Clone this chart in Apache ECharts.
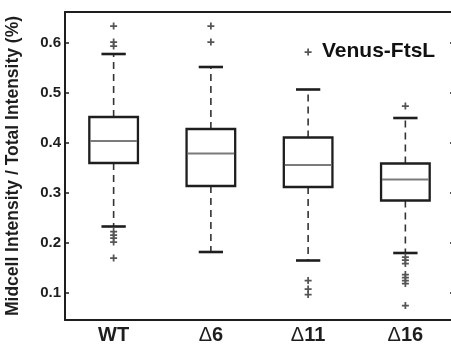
<!DOCTYPE html>
<html>
<head>
<meta charset="utf-8">
<script src="https://cdn.jsdelivr.net/npm/echarts@6/dist/echarts.min.js"></script>
<style>
  html, body { margin: 0; padding: 0; background: #fff; overflow: hidden; }
  #chart { width: 460px; height: 355px; }
</style>
</head>
<body>
<div id="chart"></div>
<script>
// Strain names along the x axis
const categories = ['WT', 'Δ6', 'Δ11', 'Δ16'];

// Box statistics per strain (fraction of total intensity)
const lowerWhisker = [0.232, 0.181, 0.164, 0.179];
const lowerQuartile = [0.359, 0.313, 0.311, 0.284];
const medianValue = [0.403, 0.378, 0.355, 0.326];
const upperQuartile = [0.451, 0.427, 0.410, 0.358];
const upperWhisker = [0.577, 0.551, 0.506, 0.449];

// Outlying cells per strain
const outliersWT = [0.633, 0.601, 0.593, 0.222, 0.215, 0.209, 0.201, 0.169];
const outliersD6 = [0.633, 0.601];
const outliersD11 = [0.581, 0.124, 0.107, 0.096];
const outliersD16 = [0.473, 0.171, 0.165, 0.158, 0.136, 0.130, 0.124, 0.118, 0.074];

const yMin = 0.045;
const yMax = 0.661;

const boxData = categories.map((c, i) => [
  i, lowerWhisker[i], lowerQuartile[i], medianValue[i], upperQuartile[i], upperWhisker[i]
]);

const outlierData = [];
[outliersWT, outliersD6, outliersD11, outliersD16].forEach((arr, i) => {
  arr.forEach(v => outlierData.push([i, v]));
});

const FONT = '"Liberation Sans", Arial, sans-serif';
const INK = '#1e1e1e';

function renderBox(params, api) {
  const i = api.value(0);
  const lo = api.coord([i, api.value(1)]);
  const q1 = api.coord([i, api.value(2)]);
  const md = api.coord([i, api.value(3)]);
  const q3 = api.coord([i, api.value(4)]);
  const hi = api.coord([i, api.value(5)]);
  const band = api.size([1, 0])[0];
  const bw = band * 0.5;
  const cw = bw * 0.5;
  const x = q1[0];
  const whiskerStyle = { stroke: '#333', lineWidth: 1.6, lineDash: [7, 5] };
  const capStyle = { stroke: INK, lineWidth: 2.6 };
  return {
    type: 'group',
    children: [
      { type: 'line', shape: { x1: x, y1: q3[1], x2: x, y2: hi[1] }, style: whiskerStyle },
      { type: 'line', shape: { x1: x, y1: q1[1], x2: x, y2: lo[1] }, style: whiskerStyle },
      { type: 'line', shape: { x1: x - cw / 2, y1: hi[1], x2: x + cw / 2, y2: hi[1] }, style: capStyle },
      { type: 'line', shape: { x1: x - cw / 2, y1: lo[1], x2: x + cw / 2, y2: lo[1] }, style: capStyle },
      { type: 'rect', shape: { x: x - bw / 2, y: q3[1], width: bw, height: q1[1] - q3[1] },
        style: { fill: 'none', stroke: INK, lineWidth: 2.3 } },
      { type: 'line', shape: { x1: x - bw / 2 + 1, y1: md[1], x2: x + bw / 2 - 1, y2: md[1] },
        style: { stroke: '#7a7a7a', lineWidth: 2 } }
    ]
  };
}

const chart = echarts.init(document.getElementById('chart'), null, { renderer: 'canvas' });

const xLabelRich = {
  d: { fontFamily: FONT, fontSize: 20, fontWeight: 'normal', color: INK },
  b: { fontFamily: FONT, fontSize: 20, fontWeight: 'bold', color: INK }
};

chart.setOption({
  animation: false,
  backgroundColor: '#fff',
  grid: { left: 65, right: 6, top: 12, bottom: 35, containLabel: false, outerBoundsMode: 'none' },
  xAxis: [
    {
      type: 'category', data: categories, position: 'bottom',
      axisLine: { lineStyle: { color: INK, width: 2 } },
      axisTick: { inside: true, alignWithLabel: true, length: 5, lineStyle: { color: INK, width: 1.5 } },
      axisLabel: {
        margin: 5,
        formatter: v => v.startsWith('Δ') ? '{d|Δ}{b|' + v.slice(1) + '}' : '{b|' + v + '}',
        rich: xLabelRich
      },
      splitLine: { show: false }
    },
    {
      type: 'category', data: categories, position: 'top',
      axisLine: { lineStyle: { color: INK, width: 2 } },
      axisTick: { inside: true, alignWithLabel: true, length: 5, lineStyle: { color: INK, width: 1.5 } },
      axisLabel: { show: false }
    }
  ],
  yAxis: [
    {
      type: 'value', min: yMin, max: yMax, position: 'left',
      name: 'Midcell Intensity / Total Intensity (%)',
      nameLocation: 'middle', nameGap: 43,
      nameTextStyle: { fontFamily: FONT, fontSize: 17.5, fontWeight: 'bold', color: INK },
      axisLine: { show: true, lineStyle: { color: INK, width: 2 } },
      axisTick: { show: true, inside: true, length: 4, lineStyle: { color: INK, width: 1.5 } },
      axisLabel: {
        showMinLabel: false, showMaxLabel: false, margin: 4,
        fontFamily: FONT, fontSize: 15, fontWeight: 'bold', color: INK,
        formatter: v => v.toFixed(1)
      },
      splitLine: { show: false }
    },
    {
      type: 'value', min: yMin, max: yMax, position: 'right',
      axisLine: { show: true, lineStyle: { color: INK, width: 2 } },
      axisTick: { show: true, inside: true, length: 4, lineStyle: { color: INK, width: 1.5 } },
      axisLabel: { show: false },
      splitLine: { show: false }
    }
  ],
  series: [
    {
      type: 'custom',
      xAxisIndex: 0, yAxisIndex: 0,
      renderItem: renderBox,
      encode: { x: 0, y: [1, 2, 3, 4, 5] },
      data: boxData,
      z: 2
    },
    {
      type: 'scatter',
      xAxisIndex: 0, yAxisIndex: 0,
      symbol: 'path://M3,0H5V3H8V5H5V8H3V5H0V3H3Z',
      symbolSize: 7,
      itemStyle: { color: '#555', opacity: 1 },
      data: outlierData,
      z: 3
    }
  ],
  graphic: [
    {
      type: 'text', left: 322, top: 41,
      style: { text: 'Venus-FtsL', fontFamily: FONT, fontSize: 21, fontWeight: 'bold', fill: '#111' }
    }
  ]
});
</script>
</body>
</html>
